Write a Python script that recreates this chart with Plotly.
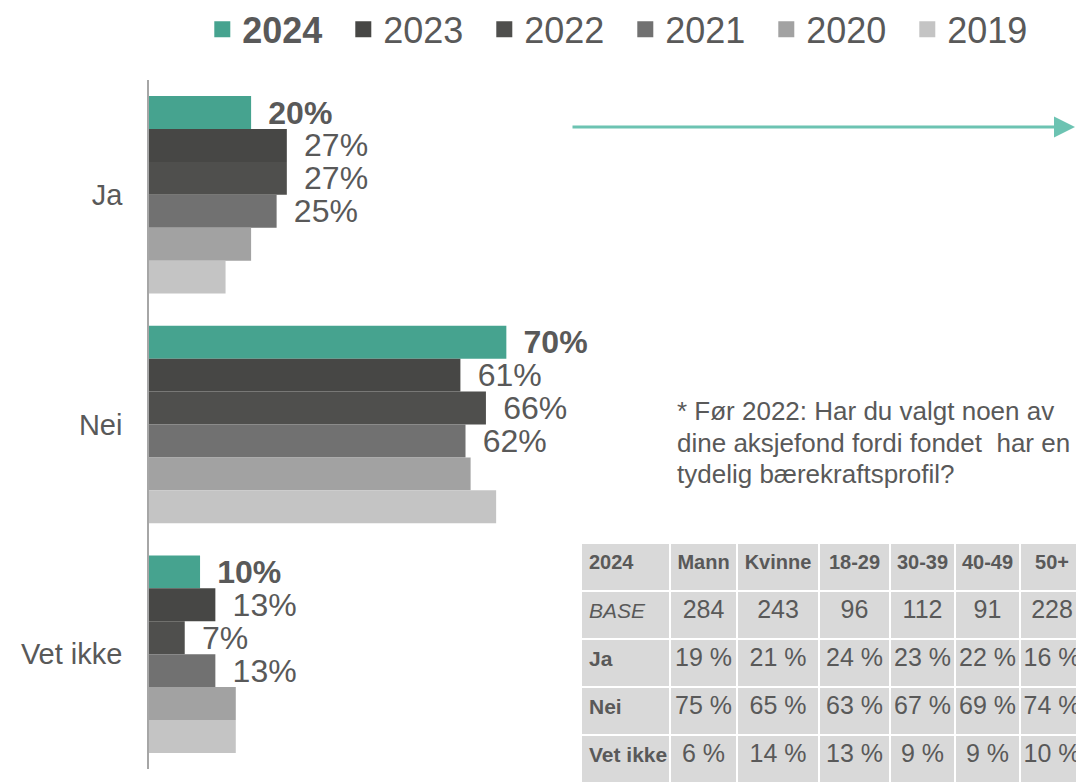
import plotly.graph_objects as go

# answer categories and survey years
categories = ["Ja", "Nei", "Vet ikke"]
years = ["2024", "2023", "2022", "2021", "2020", "2019"]

# share of respondents per year (%)
v2024 = [20, 70, 10]
v2023 = [27, 61, 13]
v2022 = [27, 66, 7]
v2021 = [25, 62, 13]
v2020 = [20, 63, 17]
v2019 = [15, 68, 17]

# 2024 breakdown table
table_cols = ["2024", "Mann", "Kvinne", "18-29", "30-39", "40-49", "50+"]
row_labels = ["BASE", "Ja", "Nei", "Vet ikke"]
base = [284, 243, 96, 112, 91, 228]
ja_split = [19, 21, 24, 23, 22, 16]
nei_split = [75, 65, 63, 67, 69, 74]
vetikke_split = [6, 14, 13, 9, 9, 10]

note_lines = ["* Før 2022: Har du valgt noen av",
              "dine aksjefond fordi fondet  har en",
              "tydelig bærekraftsprofil?"]

series = [v2024, v2023, v2022, v2021, v2020, v2019]
colors = ["#46a38f", "#474745", "#4f4f4d", "#717171", "#a2a2a2", "#c4c4c4"]
labelled = ["2024", "2023", "2022", "2021"]

FONT = "Liberation Sans, Arial, sans-serif"
GREY = "#595959"
pad = "\u00a0\u2006"

# the page body adds an 8px offset, so the figure is 8px smaller
W, H = 1076, 776

fig = go.Figure()

#### bars ####
for year, vals, col in zip(years, series, colors):
    if year in labelled:
        if year == "2024":
            txt = [f"{pad}<b>{v}%</b>" for v in vals]
        else:
            txt = [f"{pad}{v}%" for v in vals]
    else:
        txt = None
    fig.add_trace(go.Bar(
        y=categories, x=vals, orientation="h",
        name=year, showlegend=False,
        marker=dict(color=col, line=dict(width=0)),
        text=txt, textposition="outside", constraintext="none",
        textfont=dict(size=32, color=GREY, family=FONT),
        cliponaxis=False, hoverinfo="skip",
    ))

# legend entries with bigger square swatches
for year, col in zip(years, colors):
    fig.add_trace(go.Scatter(
        x=[None], y=[None], mode="markers",
        name=f"<b>{year}</b>" if year == "2024" else year,
        marker=dict(symbol="square", size=16, color=col),
        hoverinfo="skip",
    ))

#### table ####
first_col = ["<i>BASE</i>"] + [f"<b>{r}</b>".replace(" ", "\u00a0") for r in row_labels[1:]]
cell_values = [first_col]
for i in range(len(base)):
    cell_values.append([str(base[i]), f"{ja_split[i]}\u00a0%", f"{nei_split[i]}\u00a0%", f"{vetikke_split[i]}\u00a0%"])

fig.add_trace(go.Table(
    domain=dict(x=[(581 - 149) / 935, 1], y=[0, (784 - 543) / 704]),
    columnwidth=[89, 67, 82, 71, 65, 65, 64],
    header=dict(
        values=[f"<b>{c}</b>" for c in table_cols],
        fill_color="#d9d9d9", line=dict(color="white", width=2),
        align=["left"] + ["center"] * 6,
        font=dict(size=20, color=GREY, family=FONT), height=48,
    ),
    cells=dict(
        values=cell_values,
        fill_color="#d9d9d9", line=dict(color="white", width=2),
        align=["left"] + ["center"] * 6,
        font=dict(size=[21] + [25] * 6, color=GREY, family=FONT), height=48,
    ),
))

fig.update_layout(
    width=W, height=H,
    margin=dict(l=141, r=0, t=72, b=0, autoexpand=False),
    paper_bgcolor="white", plot_bgcolor="white",
    barmode="group", bargap=0.14, bargroupgap=0,
    font=dict(family=FONT, color=GREY),
    xaxis=dict(domain=[0, 0.44], range=[0, 411 / 5.1], visible=False),
    yaxis=dict(
        domain=[15 / 704, 1], autorange="reversed",
        showline=True, linecolor="#a6a6a6", linewidth=1.5,
        showgrid=False, ticks="", ticklabelstandoff=19,
        tickfont=dict(size=29, color=GREY, family=FONT),
    ),
    legend=dict(
        orientation="h", x=0.057, xanchor="left", y=1.072, yanchor="middle",
        font=dict(size=36, color=GREY, family=FONT),
        entrywidth=96, entrywidthmode="pixels", traceorder="normal",
        itemsizing="trace", bgcolor="rgba(0,0,0,0)",
    ),
    showlegend=True,
)

# trend arrow
fig.add_annotation(
    x=(1075 - 149) / 935, y=(784 - 127) / 704, ax=-(1075 - 571), ay=0,
    xref="paper", yref="paper", axref="pixel", ayref="pixel",
    text="", showarrow=True, arrowhead=2, arrowsize=1.4, arrowwidth=3, arrowcolor="#6cc3b2",
)

# footnote, one annotation per line to keep the tight line spacing
for k, line in enumerate(note_lines):
    fig.add_annotation(
        x=(675 - 149) / 935, y=(784 - (411 + 31.5 * k)) / 704, xref="paper", yref="paper",
        xanchor="left", yanchor="middle", align="left", showarrow=False,
        text=line, font=dict(size=26, color=GREY, family=FONT),
    )

fig.write_html("out.html")
